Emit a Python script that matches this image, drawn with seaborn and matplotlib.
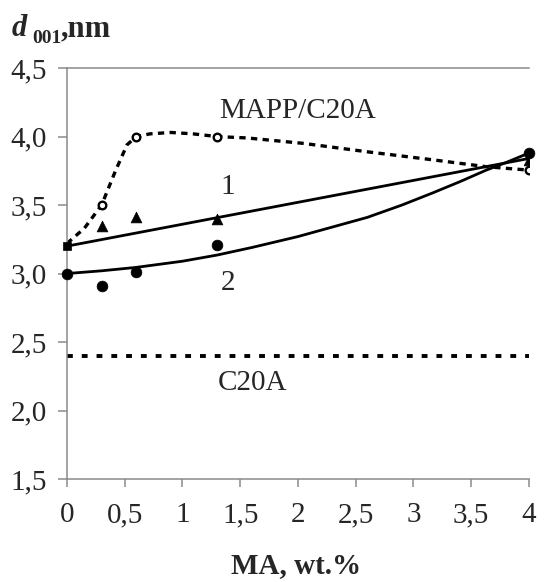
import matplotlib
matplotlib.use('Agg')
import seaborn as sns
import numpy as np
import matplotlib.pyplot as plt
import matplotlib.ticker as ticker

# --- data ---
ma_mapp   = [0.3, 0.6, 1.3, 4.0]          # open circles, MAPP/C20A
d_mapp    = [3.5, 4.0, 4.0, 3.755]
ma_s1_sq  = [0.0]                          # series 1, square at 0
d_s1_sq   = [3.2]
ma_s1     = [0.3, 0.6, 1.3, 4.0]           # series 1, triangles
d_s1      = [3.35, 3.41, 3.40, 3.83]
ma_s2     = [0.0, 0.3, 0.6, 1.3, 4.0]      # series 2, filled circles
d_s2      = [3.0, 2.91, 3.01, 3.21, 3.88]

# smoothed MAPP/C20A curve as drawn
mapp_curve_x = [0, 0.15, 0.3, 0.42, 0.52, 0.6, 0.72, 0.9, 1.09, 1.3, 1.56, 2.05, 2.59, 3.17, 3.63, 4.0]
mapp_curve_y = [3.22, 3.33, 3.5, 3.75, 3.94, 4.0, 4.02, 4.03, 4.02, 4.0, 3.99, 3.95, 3.89, 3.83, 3.78, 3.755]
# trend lines 1 and 2 as drawn
fit1_x = [0.0, 4.0]
fit1_y = [3.2, 3.84]
fit2_x = [0, 0.3, 0.6, 1.0, 1.3, 1.6, 2.0, 2.3, 2.6, 2.9, 3.17, 3.4, 3.63, 3.8, 4.0]
fit2_y = [3.0, 3.02, 3.045, 3.09, 3.135, 3.19, 3.27, 3.34, 3.41, 3.5, 3.59, 3.67, 3.755, 3.81, 3.88]
# pure C20A level
c20a_x = [0.0, 4.0]
c20a_y = [2.4, 2.4]

x_ticks = [0, 0.5, 1, 1.5, 2, 2.5, 3, 3.5, 4]
x_tick_labels = ['0', '0,5', '1', '1,5', '2', '2,5', '3', '3,5', '4']
y_ticks = [1.5, 2.0, 2.5, 3.0, 3.5, 4.0, 4.5]
y_tick_labels = ['1,5', '2,0', '2,5', '3,0', '3,5', '4,0', '4,5']

sns.set_style('ticks')
plt.rcParams['font.family'] = ['Liberation Serif', 'DejaVu Serif']
fs = 21
gray = '#8a8a8a'

fig = plt.figure(figsize=(5.49, 5.82), dpi=100)
ax = fig.add_axes([0.122, 0.177, 0.8415, 0.706])

sns.lineplot(x=mapp_curve_x, y=mapp_curve_y, sort=False, estimator=None, color='black',
             linewidth=2.4, linestyle=(0, (1.9, 1.6)), ax=ax)
sns.lineplot(x=fit1_x, y=fit1_y, sort=False, estimator=None, color='black', linewidth=2.0, ax=ax)
sns.lineplot(x=fit2_x, y=fit2_y, sort=False, estimator=None, color='black', linewidth=2.0, ax=ax)
sns.lineplot(x=c20a_x, y=c20a_y, sort=False, estimator=None, color='black',
             linewidth=2.8, linestyle=(0, (1.5, 2.3)), ax=ax)

sns.scatterplot(x=ma_mapp, y=d_mapp, marker='o', s=30, facecolor='white',
                edgecolor='black', linewidth=1.7, zorder=5, ax=ax)
sns.scatterplot(x=ma_s1, y=d_s1, marker='^', s=60, color='black',
                edgecolor='black', linewidth=0.5, zorder=5, ax=ax)
sns.scatterplot(x=ma_s1_sq, y=d_s1_sq, marker='s', s=38, color='black',
                edgecolor='black', linewidth=0.5, zorder=5, clip_on=False, ax=ax)
sns.scatterplot(x=ma_s2, y=d_s2, marker='o', s=60, color='black',
                edgecolor='black', linewidth=0.5, zorder=5, clip_on=False, ax=ax)

ax.set_xlim([0, 4])
ax.set_ylim([1.5, 4.5])
ax.xaxis.set_major_locator(ticker.FixedLocator(x_ticks))
ax.set_xticklabels(x_tick_labels)
ax.yaxis.set_major_locator(ticker.FixedLocator(y_ticks))
ax.set_yticklabels(y_tick_labels)
ax.tick_params(axis='x', which='major', labelsize=fs, length=5.5, width=1.1,
               color=gray, pad=11, direction='out')
ax.tick_params(axis='y', which='major', labelsize=fs, length=6.5, width=1.1,
               color=gray, pad=8, direction='out')
for side in ['left', 'bottom', 'top']:
    ax.spines[side].set_color(gray)
    ax.spines[side].set_linewidth(1.1)
ax.spines['right'].set_visible(False)
ax.set_xlabel('')
ax.set_ylabel('')

# curve labels
ax.text(2.0, 4.19, 'MAPP/C20A', fontsize=fs, ha='center', va='center')
ax.text(1.39, 3.63, '1', fontsize=fs, ha='center', va='center')
ax.text(1.39, 2.93, '2', fontsize=fs, ha='center', va='center')
ax.text(1.61, 2.20, 'C20A', fontsize=fs, ha='center', va='center')

# axis titles
fig.text(296 / 549, 1 - 566 / 582, 'MA, wt.%', fontsize=fs, fontweight='bold',
         ha='center', va='center')
fig.text(12 / 549, 1 - 36 / 582, 'd', fontsize=22, fontweight='bold', style='italic',
         ha='left', va='baseline')
fig.text(32 / 549, 1 - 43 / 582, '001', fontsize=14, fontweight='bold',
         ha='left', va='baseline')
fig.text(61 / 549, 1 - 36 / 582, ',nm', fontsize=22, fontweight='bold',
         ha='left', va='baseline')

fig.savefig('out.png', dpi=100)
plt.close(fig)
